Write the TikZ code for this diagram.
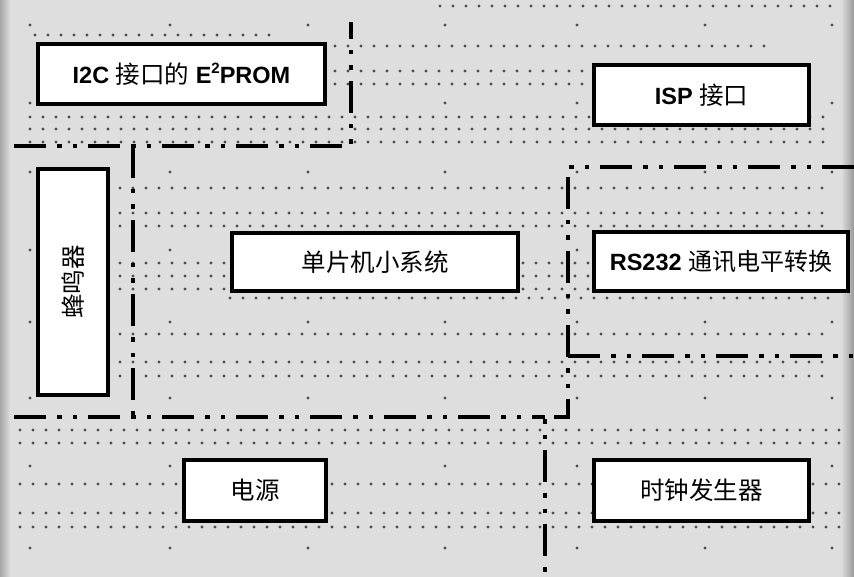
\documentclass[tikz,border=0pt]{standalone}
\usepackage{fontspec}
\setmainfont{Liberation Sans}
\newfontfamily\cjk{Noto Sans CJK SC}
\newcommand\holerow[3]{%
  \pgfmathtruncatemacro\hn{(#3-#2)/13}%
  \foreach \i in {0,...,\hn}{\fill[hole] ({#2+13*\i},#1) circle (1.7pt);}%
}
\newcommand\supii{\raisebox{0.42em}{\fontsize{15}{15}\selectfont\bfseries 2}}
\begin{document}
\begin{tikzpicture}[x=1pt,y=-1pt,
  hole/.style={fill=black!70},
  bx/.style={draw=black, line width=3.6pt, fill=white, inner sep=0pt,
    font=\fontsize{23.5}{26}\selectfont},
  ddot/.style={line width=3.6pt, dash pattern=on 32pt off 11pt on 4.5pt off 11pt on 4.5pt off 11pt}]
\useasboundingbox (0,0) rectangle (854,577);
% board
\fill[black!13] (0,0) rectangle (854,577);
\shade[left color=black!35, right color=black!13] (0,0) rectangle (10,577);
\shade[left color=black!15, right color=black!40] (842,0) rectangle (854,577);
% hole rows
\holerow{6}{440}{830}
\holerow{35}{35}{270}
\holerow{46}{335}{770}
\holerow{71}{335}{590}
\holerow{84}{335}{590}
\holerow{117}{30}{830}
\holerow{129}{30}{830}
\holerow{142}{30}{830}
\holerow{188}{120}{830}
\holerow{213}{120}{830}
\holerow{226}{120}{830}
\holerow{263}{120}{590}
\holerow{276}{120}{590}
\holerow{289}{120}{590}
\holerow{298}{230}{830}
\holerow{334}{120}{830}
\holerow{362}{120}{830}
\holerow{376}{120}{830}
\holerow{430}{20}{850}
\holerow{443}{20}{850}
\holerow{484}{20}{850}
\holerow{513}{20}{850}
\holerow{527}{20}{850}
% isolated holes
\foreach \hx in {30,170,308,445,577,705,832}{
  \foreach \hy in {25,103,172,250,322,398,466,548}{
    \fill[hole] (\hx,\hy) circle (1.7pt);
  }
}
% boxes
\node[bx, minimum width=287pt, minimum height=60pt] (eeprom) at (181.5,74)
  {\textbf{I2C} {\cjk\fontsize{24.5}{26}\selectfont 接口的} \textbf{E\supii PROM}};
\node[bx, minimum width=215pt, minimum height=60pt] (isp) at (701.5,95)
  {\textbf{ISP} {\cjk\fontsize{24.5}{26}\selectfont 接口}};
\node[bx, minimum width=70pt, minimum height=226pt] (buzz) at (73,282) {};
\node[font=\fontsize{24.5}{26}\selectfont, rotate=90] (buzzt) at (buzz.center) {\cjk 蜂鸣器};
\node[bx, minimum width=286pt, minimum height=58pt] (mcu) at (375,262)
  {\cjk\fontsize{24.5}{26}\selectfont 单片机小系统};
\node[bx, minimum width=254pt, minimum height=59pt] (rs) at (721,261.5)
  {\textbf{RS232} {\cjk\fontsize{24}{26}\selectfont 通讯电平转换}};
\node[bx, minimum width=142pt, minimum height=61pt] (pwr) at (255,490.5)
  {\cjk\fontsize{24.5}{26}\selectfont 电源};
\node[bx, minimum width=215pt, minimum height=61pt] (clk) at (701.5,490.5)
  {\cjk\fontsize{24.5}{26}\selectfont 时钟发生器};
% dash-dot-dot region borders
\draw[ddot] (14,146) -- (351,146) -- (351,22);
\draw[ddot] (133,146) -- (133,417);
\draw[ddot] (14,417) -- (545,417);
\draw[ddot] (854,167) -- (568,167) -- (568,417) -- (545,417) -- (545,577);
\draw[ddot] (568,356) -- (854,356);
\end{tikzpicture}
\end{document}
